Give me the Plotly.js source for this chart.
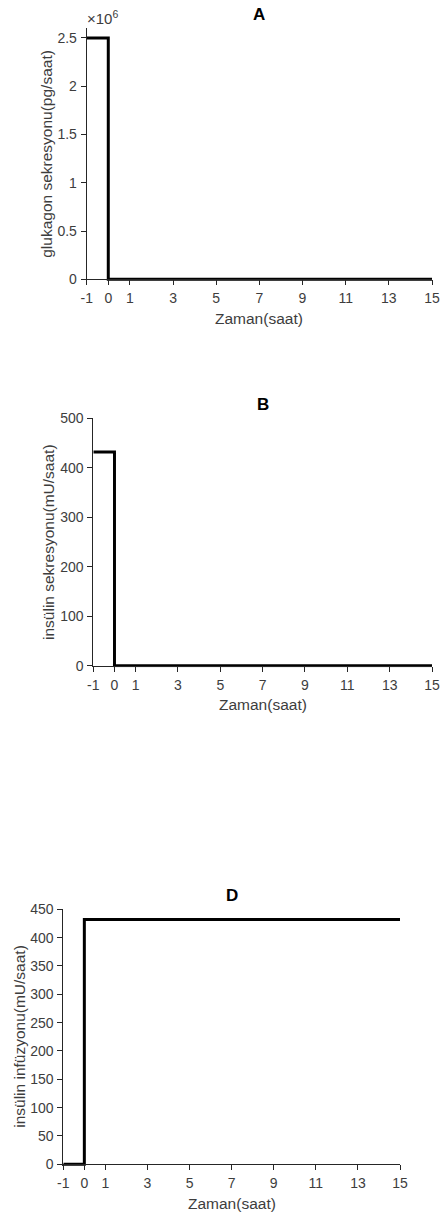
<!DOCTYPE html>
<html>
<head>
<meta charset="utf-8">
<script src="https://cdn.plot.ly/plotly-3.0.1.min.js"></script>
<style>
html,body{margin:0;padding:0;background:#fff;}
#chart{width:442px;height:1216px;}
</style>
</head>
<body>
<div id="chart"></div>
<script>
// Time points (saat)
var timeA = [-1, 0, 15];
var glucagonA = [2500000, 0, 0];
var timeB = [-1, 0, 15];
var insulinSecB = [432, 0, 0];
var timeD = [-1, 0, 15];
var insulinInfD = [0, 432, 432];

var xTickVals = [-1, 0, 1, 3, 5, 7, 9, 11, 13, 15];
var xTickText = ['-1', '0', '1', '3', '5', '7', '9', '11', '13', '15'];
var yTickValsA = [0, 500000, 1000000, 1500000, 2000000, 2500000];
var yTickTextA = ['0', '0.5', '1', '1.5', '2', '2.5'];
var yTickValsB = [0, 100, 200, 300, 400, 500];
var yTickValsD = [0, 50, 100, 150, 200, 250, 300, 350, 400, 450];

var titles = ['A', 'B', 'D'];
var xTitle = 'Zaman(saat)';
var yTitles = ['glukagon sekresyonu(pg/saat)', 'insülin sekresyonu(mU/saat)', 'insülin infüzyonu(mU/saat)'];

var W = 442, H = 1216;
var FONT = 'Liberation Sans, Arial, sans-serif';
var TICKC = '#3d3d3d';
function px(x){return x / W;}
function py(y){return (H - y) / H;}

var lineStyle = {color: '#000', width: 3, shape: 'hv'};

var traces = [
  {x: timeA, y: glucagonA, xaxis: 'x', yaxis: 'y', mode: 'lines', line: lineStyle, hoverinfo: 'none'},
  {x: timeB, y: insulinSecB, xaxis: 'x2', yaxis: 'y2', mode: 'lines', line: lineStyle, hoverinfo: 'none'},
  {x: timeD, y: insulinInfD, xaxis: 'x3', yaxis: 'y3', mode: 'lines', line: lineStyle, hoverinfo: 'none'}
];

// plot areas in pixels
var boxA = {l: 86.7, r: 432, t: 28.3, b: 279.3};
var boxB = {l: 93.3, r: 432, t: 418.3, b: 665.7};
var boxD = {l: 63.3, r: 400, t: 909.3, b: 1164.3};
var PAD = 1.6; // px of room below zero so the thick zero line is not clipped

function xAxis(b){
  return {domain: [px(b.l), px(b.r)], anchor: 'free', position: py(b.b), range: [-1, 15], tickvals: xTickVals, ticktext: xTickText,
    ticks: 'outside', ticklen: 5, tickwidth: 1, tickcolor: '#262626', showline: true, linecolor: '#262626', linewidth: 1,
    showgrid: false, zeroline: false, tickfont: {family: FONT, size: 14, color: TICKC}, ticklabelstandoff: 1, fixedrange: true};
}
function yAxis(b, anchor, top, vals, text){
  var lo = -PAD * top / (b.b - b.t);
  var a = {domain: [py(b.b + PAD), py(b.t)], anchor: anchor, range: [lo, top], tickvals: vals,
    ticks: 'outside', ticklen: 5, tickwidth: 1, tickcolor: '#262626', showline: true, linecolor: '#262626', linewidth: 1,
    showgrid: false, zeroline: false, tickfont: {family: FONT, size: 14, color: TICKC}, ticklabelstandoff: 1, fixedrange: true};
  if (text) a.ticktext = text;
  return a;
}

var layout = {
  width: W, height: H,
  margin: {l: 0, r: 0, t: 0, b: 0},
  paper_bgcolor: '#fff', plot_bgcolor: '#fff',
  showlegend: false,
  xaxis: xAxis(boxA),
  yaxis: yAxis(boxA, 'x', 2600000, yTickValsA, yTickTextA),
  xaxis2: xAxis(boxB),
  yaxis2: yAxis(boxB, 'x2', 500, yTickValsB),
  xaxis3: xAxis(boxD),
  yaxis3: yAxis(boxD, 'x3', 450, yTickValsD),
  annotations: []
};

var boxes = [boxA, boxB, boxD];
var yTitleX = [47, 48, 20];
boxes.forEach(function(b, i){
  var cx = (b.l + b.r) / 2, cy = (b.t + b.b) / 2;
  layout.annotations.push({xref: 'paper', yref: 'paper', x: px(cx), y: py(b.t - 14), text: '<b>' + titles[i] + '</b>',
    showarrow: false, xanchor: 'center', yanchor: 'middle', font: {family: FONT, size: 17, color: '#000'}});
  layout.annotations.push({xref: 'paper', yref: 'paper', x: px(cx), y: py(b.b + 39), text: xTitle,
    showarrow: false, xanchor: 'center', yanchor: 'middle', font: {family: FONT, size: 15.5, color: TICKC}});
  layout.annotations.push({xref: 'paper', yref: 'paper', x: px(yTitleX[i]), y: py(cy), text: yTitles[i], textangle: -90,
    showarrow: false, xanchor: 'center', yanchor: 'middle', font: {family: FONT, size: 15.5, color: TICKC}});
});
layout.annotations.push({xref: 'paper', yref: 'paper', x: px(85), y: py(18), text: '×10<sup>6</sup>',
  showarrow: false, xanchor: 'left', yanchor: 'middle', font: {family: FONT, size: 15, color: TICKC}});

Plotly.newPlot('chart', traces, layout, {staticPlot: true, displayModeBar: false});
</script>
</body>
</html>
